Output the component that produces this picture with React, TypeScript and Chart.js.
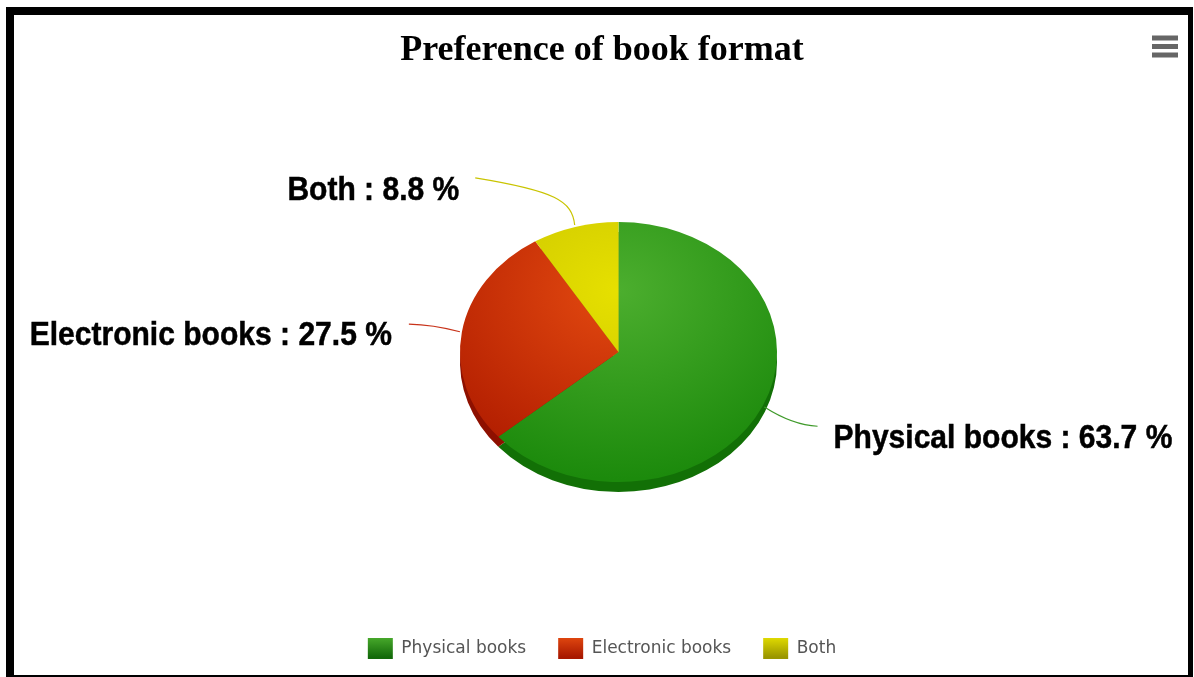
import React, { useEffect, useRef } from "react";
import { Chart, registerables } from "chart.js";

Chart.register(...registerables);

const categories = ["Physical books", "Electronic books", "Both"];
const shares = [63.7, 27.5, 8.8];
const lightColors = ["#4cae2e", "#e44a10", "#e6e000"];
const darkColors = ["#1c8a0c", "#b01c00", "#c4be00"];
const sideColors = ["#127006", "#8e1000", "#9a9600"];
const legendDark = ["#136a0a", "#a81800", "#9a9600"];
const lineColors = ["#3f9a2a", "#c8331a", "#c9c400"];
const chartTitle = "Preference of book format";

const PIE_CX = 618.5;
const PIE_CY = 352;
const PIE_R = 158.5;
const SQUASH = 130 / 158.5;
const DEPTH = 10;

// connector end / label offsets relative to each slice's rim anchor
const LABEL_LAYOUT = [
  { dx: 55, dy: 20, align: "left" as const, tx: 71, ty: 33 },
  { dx: -53, dy: -8, align: "right" as const, tx: -70, ty: 4 },
  { dx: -100, dy: -49, align: "right" as const, tx: -116, ty: -36 },
];
const LABEL_SCALE_X = 0.91;

const ellipsePie = {
  id: "ellipsePie",
  beforeDatasetDraw(chart: any) {
    const ctx = chart.ctx;
    const arcs = chart.getDatasetMeta(0).data;
    const p = arcs[0].getProps(["x", "y"], true);
    // extruded side
    ctx.save();
    ctx.translate(PIE_CX, PIE_CY + DEPTH);
    ctx.scale(1, SQUASH);
    arcs.forEach((a: any, i: number) => {
      const q = a.getProps(["startAngle", "endAngle", "outerRadius"], true);
      ctx.beginPath();
      ctx.moveTo(0, 0);
      ctx.arc(0, 0, q.outerRadius, q.startAngle, q.endAngle);
      ctx.closePath();
      ctx.fillStyle = sideColors[i];
      ctx.fill();
    });
    ctx.restore();
    ctx.save();
    ctx.translate(PIE_CX, PIE_CY);
    ctx.scale(1, SQUASH);
    ctx.translate(-p.x, -p.y);
  },
  afterDatasetDraw(chart: any) {
    const ctx = chart.ctx;
    ctx.restore();
    const arcs = chart.getDatasetMeta(0).data;
    arcs.forEach((a: any, i: number) => {
      const q = a.getProps(["startAngle", "endAngle", "outerRadius"], true);
      const mid = (q.startAngle + q.endAngle) / 2;
      const ax = PIE_CX + Math.cos(mid) * q.outerRadius;
      const ay = PIE_CY + Math.sin(mid) * q.outerRadius * SQUASH;
      const l = LABEL_LAYOUT[i];
      const ex = ax + l.dx;
      const ey = ay + l.dy;
      ctx.save();
      ctx.strokeStyle = lineColors[i];
      ctx.lineWidth = 1.2;
      ctx.beginPath();
      ctx.moveTo(ax + Math.cos(mid) * 2, ay + Math.sin(mid) * 2);
      if (Math.abs(l.dx) < 60) {
        ctx.quadraticCurveTo(ax + l.dx * 0.55, ay + l.dy * 0.95, ex, ey);
      } else {
        ctx.bezierCurveTo(ax - 3, ay - 26, ax - 20, ay - 36, ex, ey);
      }
      ctx.stroke();
      ctx.translate(ax + l.tx, ay + l.ty);
      ctx.scale(LABEL_SCALE_X, 1);
      ctx.fillStyle = "#000";
      ctx.strokeStyle = "#000";
      ctx.lineWidth = 0.5;
      ctx.font = 'bold 33px "Liberation Sans", Arial, sans-serif';
      ctx.textAlign = l.align;
      ctx.textBaseline = "middle";
      const text = `${categories[i]} : ${shares[i]} %`;
      ctx.fillText(text, 0, 0);
      ctx.strokeText(text, 0, 0);
      ctx.restore();
    });
    // context-menu icon
    ctx.save();
    ctx.fillStyle = "#666";
    [38, 46.5, 55].forEach((y) => ctx.fillRect(1152, y - 2.5, 26, 5));
    ctx.restore();
  },
};

export default function App() {
  const ref = useRef<HTMLCanvasElement>(null);
  useEffect(() => {
    document.body.style.margin = "0";
    document.body.style.background = "#fff";
    const c = new Chart(ref.current!, {
      type: "pie",
      plugins: [ellipsePie],
      data: {
        labels: categories,
        datasets: [
          {
            data: shares,
            radius: PIE_R,
            borderWidth: 0,
            backgroundColor: (context: any) => {
              const area = context.chart.chartArea;
              const gx = (area.left + area.right) / 2;
              const gy = (area.top + area.bottom) / 2 - 75;
              const g = context.chart.ctx.createRadialGradient(gx, gy, 0, gx, gy, 230);
              const i = context.dataIndex ?? 0;
              g.addColorStop(0, lightColors[i]);
              g.addColorStop(1, darkColors[i]);
              return g;
            },
          },
        ],
      },
      options: {
        animation: false,
        responsive: false,
        layout: { padding: { left: 10, top: 21, bottom: 8 } },
        plugins: {
          tooltip: { enabled: false },
          title: {
            display: true,
            text: chartTitle,
            color: "#000",
            font: { family: '"Liberation Serif", serif', size: 36, weight: "bold" },
            padding: { top: 8, bottom: 8 },
          },
          legend: {
            position: "bottom",
            labels: {
              boxWidth: 25,
              boxHeight: 21,
              padding: 32,
              color: "#555",
              font: { family: '"DejaVu Sans", sans-serif', size: 17 },
              generateLabels: (chart: any) =>
                categories.map((text, i) => {
                  const g = chart.ctx.createLinearGradient(0, 636, 0, 657);
                  g.addColorStop(0, lightColors[i]);
                  g.addColorStop(1, legendDark[i]);
                  return { text, fillStyle: g, strokeStyle: g, lineWidth: 0, index: i, fontColor: "#555" };
                }),
            },
          },
        },
      },
    } as any);
    return () => c.destroy();
  }, []);
  return (
    <div style={{ position: "relative", width: 1194, height: 677, overflow: "hidden", background: "#fff" }}>
      <div style={{ position: "absolute", left: 6, top: 7, width: 1187, height: 670, background: "#000" }} />
      <div style={{ position: "absolute", left: 14, top: 15, width: 1174, height: 660, background: "#fff", overflow: "hidden" }}>
        <canvas ref={ref} width={1194} height={677} style={{ position: "absolute", left: -14, top: -15 }} />
      </div>
    </div>
  );
}
